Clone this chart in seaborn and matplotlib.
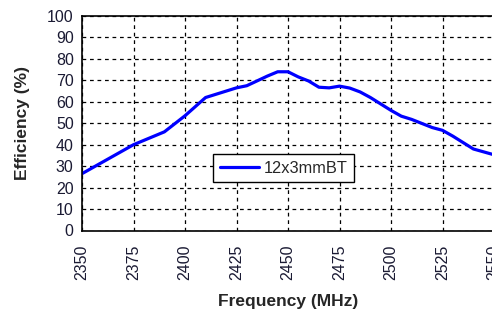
import matplotlib
matplotlib.use("Agg")
import matplotlib.pyplot as plt
import seaborn as sns
import pandas as pd

freq = [2350, 2375, 2390, 2400, 2410, 2420, 2425, 2430, 2440, 2445, 2450, 2455,
        2460, 2465, 2470, 2475, 2480, 2485, 2490, 2495, 2500, 2505, 2510, 2520,
        2525, 2530, 2540, 2550]
eff = [26.5, 40, 46, 53.5, 62, 65, 66.5, 67.5, 72, 74, 74, 71.6,
       69.7, 66.8, 66.5, 67.3, 66.4, 64.6, 62, 59, 56, 53.3, 51.8, 48,
       46.7, 44, 38, 35.3]
series_name = "12x3mmBT"
xticks = [2350, 2375, 2400, 2425, 2450, 2475, 2500, 2525, 2550]
yticks = list(range(0, 101, 10))

df = pd.DataFrame({"Frequency": freq, "Efficiency": eff, "series": series_name})

sns.set_style("white")
plt.rcParams["font.family"] = ["Liberation Sans", "DejaVu Sans"]

fig = plt.figure(figsize=(4.92, 3.12), dpi=100)
ax = fig.add_axes([82 / 492, 1 - 230.5 / 312, 412 / 492, 214.5 / 312])

sns.lineplot(data=df, x="Frequency", y="Efficiency", hue="series",
             palette=["#0000ff"], linewidth=2.3, ax=ax)

ax.set_xlim(2350, 2550)
ax.set_ylim(0, 100)
ax.set_xticks(xticks)
ax.set_yticks(yticks)
ax.set_xticklabels([str(t) for t in xticks], rotation=90, fontsize=11.5)
ax.set_yticklabels([str(t) for t in yticks], fontsize=11.5)
ax.tick_params(axis="both", direction="out", length=4, width=1, color="black",
               pad=2, labelcolor="#1a1a33")
ax.tick_params(axis="x", pad=6)

ax.grid(True, color="black", linestyle=(0, (3, 3)), linewidth=0.9)
for s in ["left", "bottom", "top"]:
    ax.spines[s].set_color("black")
    ax.spines[s].set_linewidth(1.2)
ax.spines["right"].set_visible(False)

ax.set_xlabel("Frequency (MHz)", fontsize=12.5, fontweight="bold", labelpad=10)
ax.set_ylabel("Efficiency (%)", fontsize=12.5, fontweight="bold", labelpad=12)

leg = ax.legend(loc="center", bbox_to_anchor=(0.49, 0.29), frameon=True,
                fancybox=False, edgecolor="black", fontsize=11.8,
                handlelength=2.4, borderpad=0.4, handletextpad=0.3,
                borderaxespad=0)
leg.get_frame().set_linewidth(1)
leg.get_frame().set_alpha(1)

fig.savefig("out.png", dpi=100)
